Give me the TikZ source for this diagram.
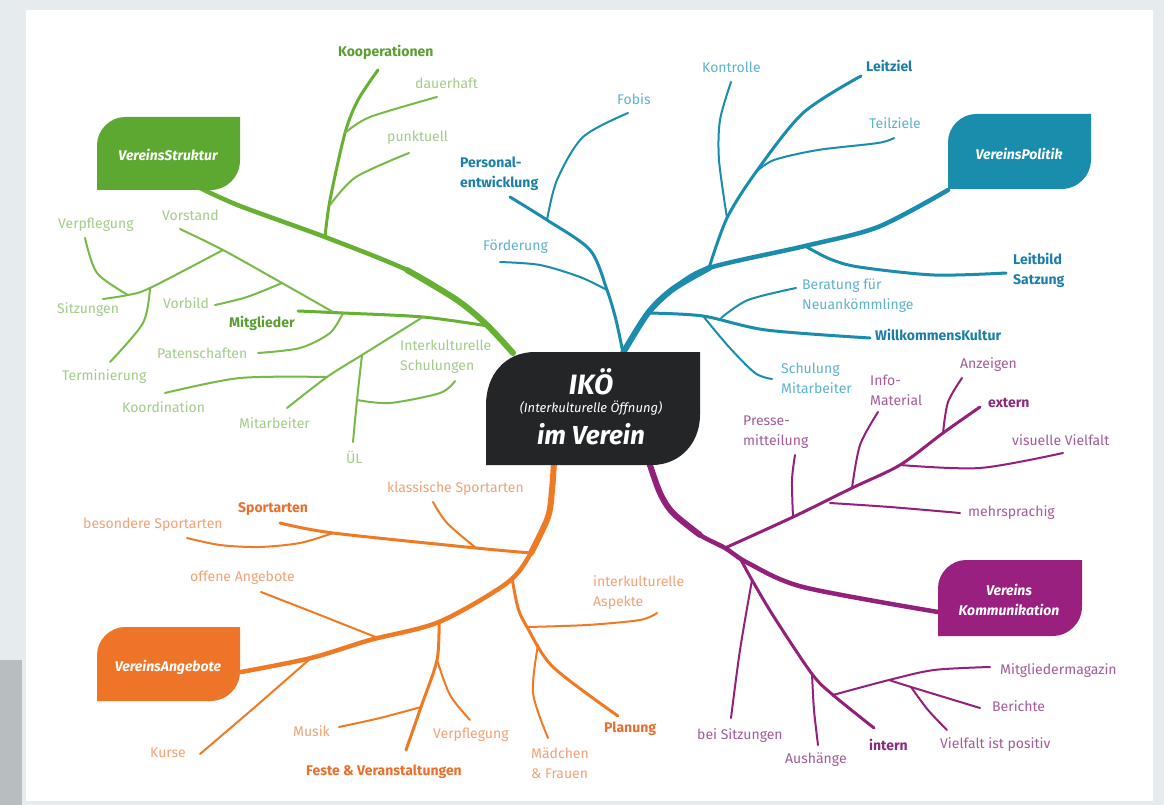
\documentclass[tikz,border=0pt]{standalone}
\usepackage{fontspec}
\setmainfont{Fira Sans}
\definecolor{gLine}{HTML}{66B032}
\definecolor{gTwig}{HTML}{78B948}
\definecolor{gBox}{HTML}{5DA831}
\definecolor{gText}{HTML}{A3CC88}
\definecolor{gBold}{HTML}{5A9E30}
\definecolor{bLine}{HTML}{1A8DAE}
\definecolor{bBox}{HTML}{1A8CAC}
\definecolor{bText}{HTML}{5EB2CD}
\definecolor{bBold}{HTML}{1B7FA8}
\definecolor{pLine}{HTML}{93207A}
\definecolor{pBox}{HTML}{99207F}
\definecolor{pText}{HTML}{A25C98}
\definecolor{pBold}{HTML}{8B2A7C}
\definecolor{oLine}{HTML}{F07A24}
\definecolor{oBox}{HTML}{EE7428}
\definecolor{oText}{HTML}{F3A277}
\definecolor{oBold}{HTML}{EC6E2C}
\definecolor{cBox}{HTML}{232527}
\definecolor{bgGrey}{HTML}{E6ECEE}
\definecolor{edgeDark}{HTML}{B8BDC0}
\begin{document}
\begin{tikzpicture}[x=1pt,y=-1pt,
  trunk/.style={line width=4.5pt,line cap=round},
  trunkin/.style={line width=6pt,line cap=round},
  branch/.style={line width=3pt,line cap=round},
  twig/.style={line width=2pt,line cap=round},
  lbl/.style={inner sep=0pt,anchor=west,font=\fontsize{14}{20}\selectfont,align=left},
  blbl/.style={inner sep=0pt,anchor=west,font=\fontsize{14}{20}\selectfont\bfseries,align=left},
  boxtxt/.style={inner sep=0pt,text=white,font=\fontsize{14}{20}\selectfont\bfseries\itshape,align=center}]
\useasboundingbox (0,0) rectangle (1164,805);
\fill[bgGrey] (0,0) rectangle (1164,805);
\fill[white] (26,10) rectangle (1153,801);
\fill[edgeDark] (0,660) rectangle (22,805);

% ---------------- GREEN ----------------
\coordinate (gO) at (513,353);
\coordinate (gB) at (200,188);
\coordinate (gKj) at (325,237);
\coordinate (gKt) at (378,70);
\coordinate (gDj) at (345,133);
\coordinate (gPj) at (330,205);
\coordinate (gMj) at (488,326);
\coordinate (gM1) at (423,317);
\coordinate (gM2) at (343,313);
\coordinate (gM3) at (333,312);
\coordinate (gMt) at (298,311);
\coordinate (gV1) at (282,283);
\coordinate (gV2) at (223,250);
\coordinate (gVt) at (180,229);
\coordinate (gS1) at (150,288);
\coordinate (gS2) at (128,295);
\coordinate (gA1) at (362,355);
\coordinate (gA2) at (327,377);
\coordinate (gU1) at (357,400);

\draw[trunk,gLine] plot[smooth] coordinates {(gO) (487,325) (457,300) (407,270) (gKj) (240,206) (gB)};
\draw[trunkin,gLine] plot[smooth] coordinates {(gO) (487,325) (457,300) (407,270)};
\draw[branch,gLine] plot[smooth] coordinates {(gKj) (330,200) (gDj) (358,100) (gKt)};
\draw[twig,gTwig] plot[smooth] coordinates {(gDj) (370,117) (437,97)};
\draw[twig,gTwig] plot[smooth] coordinates {(gPj) (356,177) (409,153)};
\draw[branch,gLine] plot[smooth] coordinates {(gMj) (gM1) (gM2) (gMt)};
\draw[twig,gTwig] plot[smooth] coordinates {(gM3) (gV1) (gV2) (gVt)};
\draw[twig,gTwig] plot[smooth] coordinates {(gV1) (247,297) (215,305)};
\draw[twig,gTwig] plot[smooth] coordinates {(gV2) (gS1) (gS2) (103,299)};
\draw[twig,gTwig] plot[smooth] coordinates {(85,238) (97,273) (gS2)};
\draw[twig,gTwig] plot[smooth] coordinates {(gS1) (143,323) (110,362)};
\draw[twig,gTwig] plot[smooth] coordinates {(gM2) (330,333) (300,348) (258,353)};
\draw[twig,gTwig] plot[smooth] coordinates {(gM1) (gA1) (gA2) (287,408)};
\draw[twig,gTwig] plot[smooth] coordinates {(gA2) (240,378) (165,393)};
\draw[twig,gTwig] plot[smooth] coordinates {(gA1) (gU1) (353,442)};
\draw[twig,gTwig] plot[smooth] coordinates {(gU1) (390,403) (440,393) (455,381)};

% ---------------- BLUE ----------------
\coordinate (bO) at (623,353);
\coordinate (bPf) at (547,220);
\coordinate (bPd) at (607,290);
\coordinate (bW) at (648,313);
\coordinate (bL) at (709,268);
\coordinate (bK) at (727,218);
\coordinate (bT) at (756,172);
\coordinate (bLb) at (805,246);
\coordinate (bWs) at (703,316);
\coordinate (bWb) at (721,318);
\coordinate (bE) at (948,190);

\draw[branch,bLine] plot[smooth] coordinates {(bO) (616,320) (bPd) (590,250) (bPf) (510,197)};
\draw[twig,bLine] plot[smooth] coordinates {(bPf) (557,180) (583,137) (628,113)};
\draw[twig,bLine] plot[smooth] coordinates {(bPd) (580,277) (540,265) (500,262)};
\draw[trunk,bLine] plot[smooth] coordinates {(bO) (bW) (673,289) (bL) (bLb) (878,227) (bE)};
\draw[trunkin,bLine] plot[smooth] coordinates {(bO) (bW) (673,289) (bL)};
\draw[branch,bLine] plot[smooth] coordinates {(bL) (bK) (bT) (803,113) (861,76)};
\draw[twig,bLine] plot[smooth] coordinates {(bK) (719,160) (720,120) (731,82)};
\draw[twig,bLine] plot[smooth] coordinates {(bT) (774,160) (818,150) (878,143) (894,138)};
\draw[branch,bLine] plot[smooth] coordinates {(bLb) (830,259) (859,267) (934,275) (1006,273)};
\draw[branch,bLine] plot[smooth] coordinates {(bW) (bWs) (766,330) (870,338)};
\draw[twig,bLine] plot[smooth] coordinates {(bWb) (748,300) (796,288)};
\draw[twig,bLine] plot[smooth] coordinates {(bWs) (729,347) (755,373) (772,379)};

% ---------------- PURPLE ----------------
\coordinate (pO) at (649,462);
\coordinate (pE) at (725,548);
\coordinate (pI) at (740,558);
\coordinate (pPr) at (793,517);
\coordinate (pMe) at (830,503);
\coordinate (pIn) at (852,488);
\coordinate (pVi) at (900,465);
\coordinate (pAn) at (943,433);
\coordinate (pBs) at (752,580);
\coordinate (pAu) at (812,674);
\coordinate (pMg) at (833,695);
\coordinate (pBe) at (889,680);
\coordinate (pVf) at (911,687);
\coordinate (pK) at (938,612);

\draw[trunk,pLine] plot[smooth] coordinates {(pO) (660,493) (673,513) (700,535) (pE) (748,563) (803,587) (pK)};
\draw[trunkin,pLine] plot[smooth] coordinates {(pO) (660,493) (673,513) (700,535)};
\draw[branch,pLine] plot[smooth] coordinates {(pE) (pPr) (pIn) (pVi) (pAn) (980,407)};
\draw[twig,pLine] plot[smooth] coordinates {(pPr) (792,480) (795,455)};
\draw[twig,pLine] plot[smooth] coordinates {(pIn) (860,445) (878,412)};
\draw[twig,pLine] plot[smooth] coordinates {(pAn) (948,402) (962,378)};
\draw[twig,pLine] plot[smooth] coordinates {(pVi) (980,468) (1063,453)};
\draw[twig,pLine] plot[smooth] coordinates {(pMe) (890,507) (960,513)};
\draw[branch,pLine] plot[smooth] coordinates {(pI) (pBs) (774,617) (pAu) (pMg) (874,728)};
\draw[twig,pLine] plot[smooth] coordinates {(pBs) (740,650) (731,718)};
\draw[twig,pLine] plot[smooth] coordinates {(pAu) (814,710) (818,745)};
\draw[twig,pLine] plot[smooth] coordinates {(pMg) (pBe) (934,670) (990,667)};
\draw[twig,pLine] plot[smooth] coordinates {(pBe) (pVf) (980,708)};
\draw[twig,pLine] plot[smooth] coordinates {(pVf) (928,710) (947,730)};

% ---------------- ORANGE ----------------
\coordinate (oO) at (554,462);
\coordinate (oS) at (531,553);
\coordinate (oP) at (512,578);
\coordinate (oF) at (439,622);
\coordinate (oOf) at (378,638);
\coordinate (oK) at (311,658);
\coordinate (oKl) at (476,548);
\coordinate (oBe) at (333,533);
\coordinate (oFv) at (437,660);
\coordinate (oFm) at (421,707);
\coordinate (oPa) at (527,627);
\coordinate (oPm) at (538,645);
\coordinate (oA) at (241,672);

\draw[trunk,oLine] plot[smooth] coordinates {(oO) (552,490) (548,517) (oS) (507,583) (oF) (370,640) (oK) (oA)};
\draw[trunkin,oLine] plot[smooth] coordinates {(oO) (552,490) (548,517) (oS)};
\draw[branch,oLine] plot[smooth] coordinates {(oS) (oKl) (oBe) (280,523)};
\draw[twig,oLine] plot[smooth] coordinates {(oKl) (447,523) (433,502)};
\draw[twig,oLine] plot[smooth] coordinates {(oBe) (300,543) (259,547) (220,545) (187,538)};
\draw[twig,oLine] plot[smooth] coordinates {(oOf) (320,615) (261,592)};
\draw[twig,oLine] plot[smooth] coordinates {(oK) (255,707) (200,754)};
\draw[branch,oLine] plot[smooth] coordinates {(oF) (oFv) (oFm) (406,750)};
\draw[twig,oLine] plot[smooth] coordinates {(oFm) (380,718) (339,727)};
\draw[twig,oLine] plot[smooth] coordinates {(oFv) (450,695) (470,720)};
\draw[branch,oLine] plot[smooth] coordinates {(oP) (518,608) (oPa) (553,667) (618,716)};
\draw[twig,oLine] plot[smooth] coordinates {(oPa) (587,625) (640,620) (657,613)};
\draw[twig,oLine] plot[smooth] coordinates {(oPm) (533,693) (548,738)};

% ---------------- BOXES ----------------
\fill[gBox] (97,190) -- (97,145) .. controls (97,130) and (110,117) .. (125,117) -- (240,117) -- (240,160) .. controls (240,177) and (227,190) .. (210,190) -- cycle;
\fill[bBox] (948,189) -- (948,142) .. controls (948,127) and (961,114) .. (976,114) -- (1091,114) -- (1091,159) .. controls (1091,176) and (1078,189) .. (1061,189) -- cycle;
\fill[pBox] (938,636) -- (938,588) .. controls (938,573) and (951,560) .. (966,560) -- (1082,560) -- (1082,606) .. controls (1082,623) and (1069,636) .. (1052,636) -- cycle;
\fill[oBox] (97,701) -- (97,655) .. controls (97,640) and (110,627) .. (125,627) -- (240,627) -- (240,671) .. controls (240,688) and (227,701) .. (210,701) -- cycle;
\fill[cBox] (486,465) -- (486,405) .. controls (486,375) and (505,352) .. (535,352) -- (700,352) -- (700,415) .. controls (700,443) and (680,465) .. (652,465) -- cycle;

\node[boxtxt] (vs) at (168,155) {VereinsStruktur};
\node[boxtxt] (vp) at (1019,154) {VereinsPolitik};
\node[boxtxt] (vk) at (1009,600) {Vereins\\Kommunikation};
\node[boxtxt] (va) at (168,667) {VereinsAngebote};
\node[inner sep=0pt,text=white,font=\fontsize{28}{30}\selectfont\bfseries\itshape] (ik1) at (591,382) {IKÖ};
\node[inner sep=0pt,text=white,font=\fontsize{13}{15}\selectfont\itshape] (ik2) at (591,408) {(Interkulturelle Öffnung)};
\node[inner sep=0pt,text=white,font=\fontsize{26}{30}\selectfont\bfseries\itshape] (ik3) at (591,434) {im Verein};

% ---------------- LABELS ----------------
% green
\node[blbl,gBold] (koop) at (338,52) {Kooperationen};
\node[lbl,gText] (dauer) at (415,83) {dauerhaft};
\node[lbl,gText] (punkt) at (387,138) {punktuell};
\node[lbl,gText] (vorst) at (162,215) {Vorstand};
\node[lbl,gText] (verpf1) at (58,225) {Verpflegung};
\node[lbl,gText] (sitz1) at (57,310) {Sitzungen};
\node[lbl,gText] (termin) at (62,377) {Terminierung};
\node[lbl,gText] (vorbild) at (163,303) {Vorbild};
\node[blbl,gBold] (mitgl) at (229,323) {Mitglieder};
\node[lbl,gText] (paten) at (157,353) {Patenschaften};
\node[lbl,gText] (koord) at (122,407) {Koordination};
\node[lbl,gText] (mitarb1) at (239,423) {Mitarbeiter};
\node[lbl,gText] (ul) at (346,457) {ÜL};
\node[lbl,gText] (iks) at (400,357) {Interkulturelle\\Schulungen};
% blue
\node[blbl,bBold] (pers) at (460,174) {Personal-\\entwicklung};
\node[lbl,bText] (fobis) at (617,99) {Fobis};
\node[lbl,bText] (foerd) at (483,247) {Förderung};
\node[lbl,bText] (kontr) at (702,67) {Kontrolle};
\node[blbl,bBold] (leitz) at (866,66) {Leitziel};
\node[lbl,bText] (teilz) at (869,123) {Teilziele};
\node[blbl,bBold] (leitb) at (1013,270) {Leitbild\\Satzung};
\node[lbl,bText] (berat) at (802,296) {Beratung für\\Neuankömmlinge};
\node[blbl,bBold] (willk) at (875,335) {WillkommensKultur};
\node[lbl,bText] (schul) at (781,378) {Schulung\\Mitarbeiter};
% purple
\node[lbl,pText] (presse) at (743,432) {Presse-\\mitteilung};
\node[lbl,pText] (info) at (870,390) {Info-\\Material};
\node[lbl,pText] (anz) at (960,365) {Anzeigen};
\node[blbl,pBold] (extern) at (988,403) {extern};
\node[lbl,pText] (visu) at (1012,440) {visuelle Vielfalt};
\node[lbl,pText] (mehr) at (968,513) {mehrsprachig};
\node[lbl,pText] (magaz) at (1000,671) {Mitgliedermagazin};
\node[lbl,pText] (ber) at (992,706) {Berichte};
\node[lbl,pText] (vielf) at (940,745) {Vielfalt ist positiv};
\node[blbl,pBold] (intern) at (869,745) {intern};
\node[lbl,pText] (aush) at (785,760) {Aushänge};
\node[lbl,pText] (beisitz) at (697,736) {bei Sitzungen};
% orange
\node[lbl,oText] (klass) at (387,489) {klassische Sportarten};
\node[blbl,oBold] (sport) at (238,509) {Sportarten};
\node[lbl,oText] (beson) at (83,525) {besondere Sportarten};
\node[lbl,oText] (offen) at (190,578) {offene Angebote};
\node[lbl,oText] (kurse) at (150,753) {Kurse};
\node[lbl,oText] (musik) at (293,731) {Musik};
\node[lbl,oText] (verpf2) at (433,735) {Verpflegung};
\node[blbl,oBold] (feste) at (306,772) {Feste \& Veranstaltungen};
\node[lbl,oText] (maed) at (531,763) {Mädchen\\\& Frauen};
\node[blbl,oBold] (plan) at (604,729) {Planung};
\node[lbl,oText] (ika) at (593,593) {interkulturelle\\Aspekte};
\end{tikzpicture}
\end{document}
